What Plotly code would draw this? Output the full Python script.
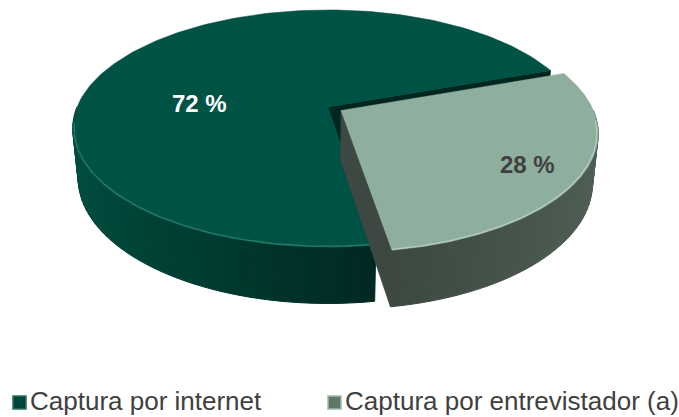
import numpy as np
import plotly.graph_objects as go

# ---------------- data ----------------
categories = ["Captura por internet", "Captura por entrevistador (a)"]
values = [72, 28]
value_labels = ["72 %", "28 %"]
top_colors = ["#005244", "#8FAF9E"]
side_dark = [(0, 36, 30), (60, 72, 64)]
side_light = [(0, 78, 64), (80, 96, 86)]
face_colors = ["#00261F", "#3E4842"]
rim_colors = ["rgba(40,130,110,0.9)", "rgba(190,210,200,0.8)"]
legend_fill = ["#00443A", "#5E7868"]
legend_edge = ["#2F6F60", "#A0BAAA"]
explode = [0.0, 0.06]
label_colors = ["#FFFFFF", "#404040"]
label_pos = [(199, 103), (527, 164)]

# ---------------- 3D pie projection ----------------
W, H = 679, 417
CX, CY, K = 328.0, 107.0, 251.0
SE = 0.457
CE = np.sqrt(1 - SE ** 2)
F = 4.9
DEPTH = 0.225
START = 171.0  # first slice angle (deg, clockwise from back)


def proj(X, Y, Z):
    X, Y, Z = np.asarray(X, float), np.asarray(Y, float), np.asarray(Z, float)
    v = Z * CE + Y * SE
    w = Y * CE - Z * SE
    s = F / (F + w)
    return CX + K * X * s, CY - K * v * s


def rgb(c):
    return "rgb(%d,%d,%d)" % tuple(int(round(x)) for x in c)


fig = go.Figure()


def poly(xs, ys, color, lw=0.8):
    fig.add_trace(go.Scatter(
        x=list(xs) + [xs[0]], y=list(ys) + [ys[0]], mode="lines", fill="toself",
        fillcolor=color, line=dict(color=color, width=lw), hoverinfo="skip",
        showlegend=False))


total = float(sum(values))
t = START
for i, val in enumerate(values):
    t0, t1 = t, t + 360.0 * val / total
    t = t1
    mid = np.radians((t0 + t1) / 2)
    ox, oy = explode[i] * np.sin(mid), explode[i] * np.cos(mid)

    # radial (cut) faces
    for ang, sign in ((t0, -1), (t1, 1)):
        if sign * np.sin(np.radians(ang)) > 0:
            a = np.radians(ang)
            X = [ox, ox + np.sin(a), ox + np.sin(a), ox]
            Y = [oy, oy + np.cos(a), oy + np.cos(a), oy]
            Z = [0, 0, -DEPTH, -DEPTH]
            px, py = proj(X, Y, Z)
            poly(px, py, face_colors[i])

    # outer wall, front part only, as shaded segments (far first)
    segs = []
    for k in range(3):
        lo, hi = max(t0, 90 + 360 * k), min(t1, 270 + 360 * k)
        if hi > lo:
            n = max(2, int((hi - lo) / 2))
            edges = np.linspace(lo, hi, n + 1)
            for a0, a1 in zip(edges[:-1], edges[1:]):
                segs.append((a0, a1))
    segs.sort(key=lambda s: -np.cos(np.radians((s[0] + s[1]) / 2)))
    for a0, a1 in segs:
        aa = np.radians(np.linspace(a0, a1, 4))
        X = np.concatenate([ox + np.sin(aa), ox + np.sin(aa[::-1])])
        Y = np.concatenate([oy + np.cos(aa), oy + np.cos(aa[::-1])])
        Z = np.concatenate([np.zeros(4), -DEPTH * np.ones(4)])
        px, py = proj(X, Y, Z)
        xm = np.sin(np.radians((a0 + a1) / 2))
        f = np.clip((xm + 1) / 1.3, 0, 1) if i == 0 else np.clip((xm - 0.15) / 0.85, 0, 1)
        if i == 0:
            col = np.array(side_light[i]) * (1 - f) + np.array(side_dark[i]) * f
        else:
            col = np.array(side_dark[i]) * (1 - f) + np.array(side_light[i]) * f
        poly(px, py, rgb(col), lw=1.0)

    # top face
    aa = np.radians(np.linspace(t0, t1, 200))
    X = np.concatenate([[ox], ox + np.sin(aa)])
    Y = np.concatenate([[oy], oy + np.cos(aa)])
    px, py = proj(X, Y, np.zeros(len(X)))
    poly(px, py, top_colors[i], lw=0.5)

    # rim highlight on the front edge
    for k in range(3):
        lo, hi = max(t0, 95 + 360 * k), min(t1, 262 + 360 * k)
        if hi > lo:
            aa = np.radians(np.linspace(lo, hi, 100))
            px, py = proj(ox + np.sin(aa) * 0.995, oy + np.cos(aa) * 0.995, np.zeros(100))
            fig.add_trace(go.Scatter(x=px, y=py, mode="lines",
                                     line=dict(color=rim_colors[i], width=1.3),
                                     hoverinfo="skip", showlegend=False))

    # value label
    fig.add_annotation(x=label_pos[i][0], y=label_pos[i][1], text=value_labels[i],
                       showarrow=False, xanchor="center", yanchor="middle",
                       font=dict(family="Liberation Sans, Arial", size=24,
                                 color=label_colors[i], weight="bold"))

# legend (symbols + text)
leg_x = [19.5, 334.5]
leg_y = 400.5
for i, cat in enumerate(categories):
    fig.add_trace(go.Scatter(x=[leg_x[i]], y=[leg_y + 2], mode="markers",
                             marker=dict(symbol="square", size=13, color=legend_fill[i],
                                         line=dict(color=legend_edge[i], width=1.5)),
                             hoverinfo="skip", showlegend=False))
    fig.add_annotation(x=leg_x[i] + 8, y=leg_y, text=cat, showarrow=False,
                       xanchor="left", yanchor="middle",
                       font=dict(family="Liberation Sans, Arial", size=26, color="#404040"))

fig.update_layout(
    width=W, height=H, margin=dict(l=0, r=0, t=0, b=0),
    paper_bgcolor="white", plot_bgcolor="white",
    xaxis=dict(range=[0, W], visible=False, fixedrange=True),
    yaxis=dict(range=[H, 0], visible=False, fixedrange=True),
    showlegend=False,
)
fig.write_html("out.html")
